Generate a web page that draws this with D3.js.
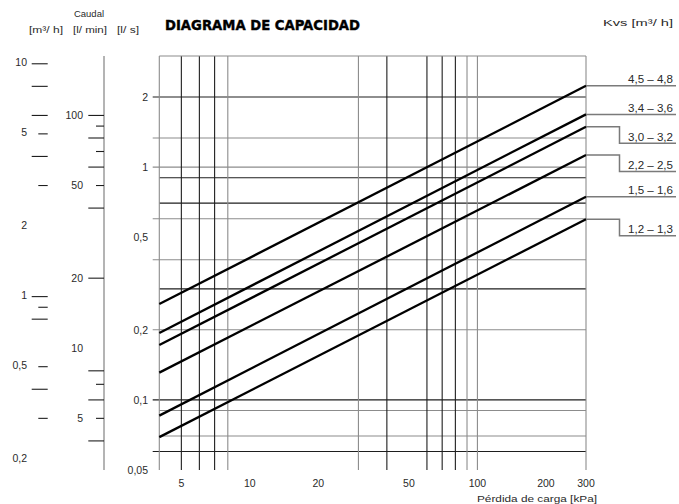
<!DOCTYPE html>
<html><head><meta charset="utf-8">
<script src="https://cdn.jsdelivr.net/npm/d3@7/dist/d3.min.js"></script>
<style>
html,body{margin:0;padding:0;background:#fff;}
svg{display:block;font-family:"Liberation Sans","DejaVu Sans",Arial,sans-serif;}
</style></head>
<body><svg id="c" width="679" height="504"></svg>
<script>
// ---- data ----
const seriesLabels = ["4,5 – 4,8","3,4 – 3,6","3,0 – 3,2","2,2 – 2,5","1,5 – 1,6","1,2 – 1,3"];
const pressureEnds = [4, 300];                 // kPa
const flowAt4   = [0.258, 0.194, 0.172, 0.131, 0.0856, 0.0692]; // l/s at 4 kPa
const flowAt300 = [2.234, 1.684, 1.489, 1.126, 0.746, 0.597];   // l/s at 300 kPa
const legendStepped = [false, false, true, true, false, true];

const xTickLabels = [5, 10, 20, 50, 100, 200, 300];
const xGridBlack = [5, 6, 7, 40, 60, 70, 80];
const xGridGray  = [8, 30, 90, 100];
const yGridBlack = [2, 0.9, 0.7, 0.3, 0.1, 0.06];
const yGridGray  = [1.333, 1, 0.6, 0.4, 0.2, 0.09, 0.07];
const yGridTicked = [2, 1.333, 1, 0.6, 0.4, 0.2, 0.1, 0.06];
const lsLabels = [2, 1, 0.5, 0.2, 0.1, 0.05];

const lminLong = [100, 80, 60, 40, 20, 8, 6, 4];
const lminShort = [90, 70, 50, 7, 5];
const lminLabels = [100, 50, 20, 10, 5];

const m3hLong = [10, 8, 6, 4, 1, 0.8, 0.4];
const m3hShort = [5, 3, 0.9, 0.5, 0.3];
const m3hLabels = [10, 5, 2, 1, 0.5, 0.2];

// ---- scales ----
const pL = 159.3, pR = 586, pT = 56, pB = 470;
const x = d3.scaleLog().domain([4, 300]).range([pL, pR]);
const y = d3.scaleLog().domain([0.05, 3]).range([pB, pT]);
const yLmin = d3.scaleLog().domain([3, 180]).range([pB, pT]);
const yM3h = d3.scaleLog().domain([0.18, 10.8]).range([pB, pT]);
const fmt = v => String(v).replace(".", ",");

const BLACK = "#1e1e1e", GRAY = "#8c8c8c", TXT = "#2a2a2a";
const svg = d3.select("#c");

// title
svg.append("text").attr("x", 165).attr("y", 29.5)
  .attr("font-family", "'DejaVu Sans',sans-serif").attr("font-weight", "bold")
  .attr("font-size", 13.5).attr("fill", "#000").attr("stroke", "#000").attr("stroke-width", 0.4)
  .attr("textLength", 195).attr("lengthAdjust", "spacingAndGlyphs")
  .text("DIAGRAMA DE CAPACIDAD");

// header
const hdr = svg.append("g").attr("font-size", 9.5).attr("fill", TXT);
hdr.append("text").attr("x", 89).attr("y", 17).attr("text-anchor", "middle").text("Caudal");
hdr.append("text").attr("x", 46).attr("y", 33).attr("text-anchor", "middle")
  .attr("textLength", 34).attr("lengthAdjust", "spacingAndGlyphs").text("[m³/ h]");
hdr.append("text").attr("x", 90).attr("y", 33).attr("text-anchor", "middle")
  .attr("textLength", 34).attr("lengthAdjust", "spacingAndGlyphs").text("[l/ min]");
hdr.append("text").attr("x", 128).attr("y", 33).attr("text-anchor", "middle")
  .attr("textLength", 22).attr("lengthAdjust", "spacingAndGlyphs").text("[l/ s]");
svg.append("text").attr("x", 673).attr("y", 26).attr("text-anchor", "end")
  .attr("font-size", 9.5).attr("fill", TXT)
  .attr("textLength", 70).attr("lengthAdjust", "spacingAndGlyphs").text("Kvs [m³/ h]");

// grid
const grid = svg.append("g").attr("stroke-width", 1.1);
grid.selectAll(".hg").data(yGridBlack.map(v => ({v, c: BLACK})).concat(yGridGray.map(v => ({v, c: GRAY}))))
  .join("line")
  .attr("x1", d => yGridTicked.includes(d.v) ? 152.7 : pL).attr("x2", pR)
  .attr("y1", d => y(d.v)).attr("y2", d => y(d.v)).attr("stroke", d => d.c);
grid.selectAll(".vg").data(xGridBlack.map(v => ({v, c: BLACK})).concat(xGridGray.map(v => ({v, c: GRAY}))))
  .join("line")
  .attr("x1", d => x(d.v)).attr("x2", d => x(d.v))
  .attr("y1", pT).attr("y2", pB).attr("stroke", d => d.c);
// borders
grid.append("line").attr("x1", pL).attr("x2", pR).attr("y1", y(3)).attr("y2", y(3)).attr("stroke", GRAY);
grid.append("line").attr("x1", x(4)).attr("x2", x(4)).attr("y1", pT).attr("y2", pB).attr("stroke", GRAY);
grid.append("line").attr("x1", x(300)).attr("x2", x(300)).attr("y1", pT).attr("y2", pB).attr("stroke", GRAY);

// l/s labels
svg.append("g").attr("font-size", 10.5).attr("fill", TXT).attr("text-anchor", "end")
  .selectAll("text").data(lsLabels).join("text")
  .attr("x", 148).attr("y", d => y(d) + 3.8).text(fmt);

// l/min axis
const lm = svg.append("g");
lm.append("line").attr("x1", 104).attr("x2", 104).attr("y1", pT).attr("y2", pB)
  .attr("stroke", GRAY).attr("stroke-width", 1.3);
lm.selectAll(".l").data(lminLong).join("line")
  .attr("x1", 88.3).attr("x2", 104).attr("y1", d => yLmin(d)).attr("y2", d => yLmin(d))
  .attr("stroke", BLACK).attr("stroke-width", 1.1);
lm.selectAll(".s").data(lminShort).join("line")
  .attr("x1", 96).attr("x2", 104).attr("y1", d => yLmin(d)).attr("y2", d => yLmin(d))
  .attr("stroke", BLACK).attr("stroke-width", 1.1);
lm.selectAll("text").data(lminLabels).join("text")
  .attr("x", 83).attr("y", d => yLmin(d) + 3.8).attr("text-anchor", "end")
  .attr("font-size", 10.5).attr("fill", TXT).text(fmt);

// m3/h axis
const mh = svg.append("g");
mh.selectAll(".l").data(m3hLong).join("line")
  .attr("x1", 31.7).attr("x2", 47.7).attr("y1", d => yM3h(d)).attr("y2", d => yM3h(d))
  .attr("stroke", BLACK).attr("stroke-width", 1.1);
mh.selectAll(".s").data(m3hShort).join("line")
  .attr("x1", 38.3).attr("x2", 47.7).attr("y1", d => yM3h(d)).attr("y2", d => yM3h(d))
  .attr("stroke", BLACK).attr("stroke-width", 1.1);
mh.selectAll("text").data(m3hLabels).join("text")
  .attr("x", 27).attr("y", d => yM3h(d) + 2.5).attr("text-anchor", "end")
  .attr("font-size", 10.5).attr("fill", TXT).text(fmt);

// x labels
svg.append("g").attr("font-size", 10.5).attr("fill", TXT).attr("text-anchor", "middle")
  .selectAll("text").data(xTickLabels).join("text")
  .attr("x", d => x(d)).attr("y", 487).text(d => d);
svg.append("text").attr("x", 537).attr("y", 502).attr("text-anchor", "middle")
  .attr("font-size", 9.5).attr("fill", TXT)
  .attr("textLength", 120).attr("lengthAdjust", "spacingAndGlyphs")
  .text("Pérdida de carga [kPa]");

// series lines
const line = d3.line().x(d => x(d[0])).y(d => y(d[1]));
svg.append("g").selectAll("path").data(seriesLabels.map((l, i) =>
    pressureEnds.map((p, j) => [p, j === 0 ? flowAt4[i] : flowAt300[i]])))
  .join("path").attr("d", line).attr("fill", "none")
  .attr("stroke", "#000").attr("stroke-width", 2.3);

// legend connectors + labels
const lg = svg.append("g");
seriesLabels.forEach((lab, i) => {
  const ye = y(flowAt300[i]);
  const yl = legendStepped[i] ? ye + 16.5 : ye;
  const pts = legendStepped[i]
    ? [[pR, ye], [619.5, ye], [619.5, yl], [676, yl]]
    : [[pR, ye], [676, ye]];
  lg.append("path").attr("d", d3.line()(pts)).attr("fill", "none")
    .attr("stroke", "#7a7a7a").attr("stroke-width", 1.5);
  lg.append("text").attr("x", 673).attr("y", yl - 2.5).attr("text-anchor", "end")
    .attr("font-size", 10).attr("fill", TXT)
    .attr("textLength", 45).attr("lengthAdjust", "spacingAndGlyphs").text(lab);
});
</script></body></html>
